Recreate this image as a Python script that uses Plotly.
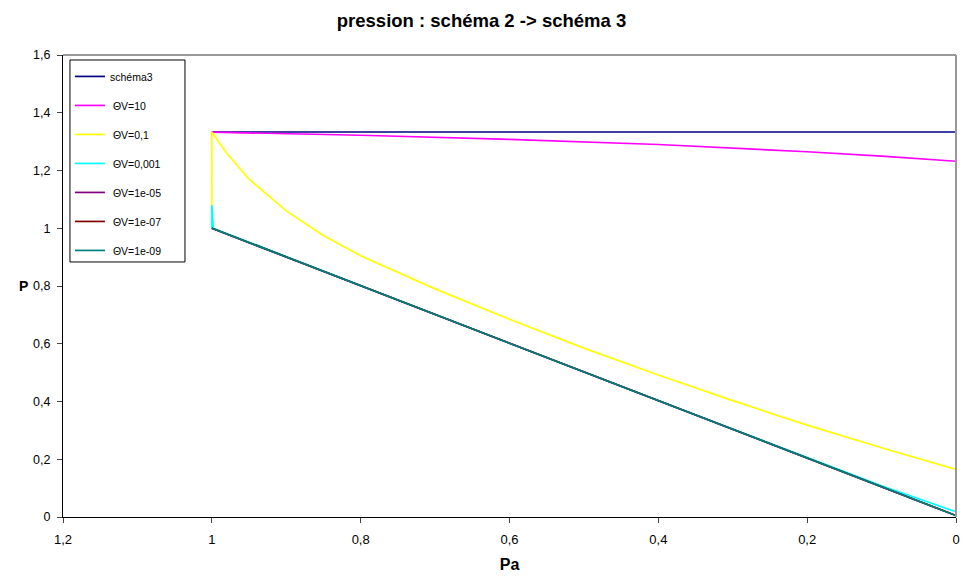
import plotly.graph_objects as go

# ---- data ----
names = ["schéma3", " ΘV=10", " ΘV=0,1", " ΘV=0,001", " ΘV=1e-05", " ΘV=1e-07", " ΘV=1e-09"]
colors = ["#000080", "#FF00FF", "#FFFF00", "#00FFFF", "#800080", "#800000", "#008080"]

pa_schema3 = [1.0, 0.0]
p_schema3 = [1.3333, 1.3333]

pa_tv10 = [1.0, 0.8, 0.6, 0.4, 0.2, 0.1, 0.0]
p_tv10 = [1.333, 1.322, 1.308, 1.290, 1.265, 1.250, 1.232]

pa_tv01 = [1.0, 1.0, 0.98, 0.95, 0.9, 0.85, 0.8, 0.7, 0.6, 0.5, 0.4, 0.3, 0.2, 0.1, 0.0]
p_tv01 = [1.0, 1.333, 1.26, 1.17, 1.06, 0.975, 0.905, 0.79, 0.685, 0.585, 0.492, 0.403, 0.318, 0.240, 0.165]

pa_tv1e3 = [1.0, 1.0, 0.998, 0.8, 0.6, 0.4, 0.2, 0.1, 0.0]
p_tv1e3 = [1.0, 1.08, 1.0, 0.801, 0.602, 0.403, 0.205, 0.108, 0.018]

pa_tv1e5 = [1.0, 0.0]
p_tv1e5 = [1.0, 0.005]
pa_tv1e7 = [1.0, 0.0]
p_tv1e7 = [1.0, 0.005]
pa_tv1e9 = [1.0, 0.0]
p_tv1e9 = [1.0, 0.005]

xs = [pa_schema3, pa_tv10, pa_tv01, pa_tv1e3, pa_tv1e5, pa_tv1e7, pa_tv1e9]
ys = [p_schema3, p_tv10, p_tv01, p_tv1e3, p_tv1e5, p_tv1e7, p_tv1e9]

x_ticks = [1.2, 1.0, 0.8, 0.6, 0.4, 0.2, 0.0]
y_ticks = [0, 0.2, 0.4, 0.6, 0.8, 1.0, 1.2, 1.4, 1.6]

fig = go.Figure()
for i, (n, c, x, y) in enumerate(zip(names, colors, xs, ys)):
    fig.add_trace(go.Scatter(x=x, y=y, mode="lines", name=n,
                             line=dict(color=c, width=1.7),
                             legendgroup=f"g{i}"))

font_family = "Liberation Sans, Arial, sans-serif"
fig.update_layout(
    width=963, height=579,
    margin=dict(l=63, r=7, t=55, b=62, autoexpand=False),
    paper_bgcolor="white", plot_bgcolor="white",
    separators=", ",
    font=dict(family=font_family, size=13, color="black"),
    title=dict(text="<b>pression : schéma 2 -> schéma 3</b>", x=0.5, xanchor="center",
               y=0.965, yanchor="middle", font=dict(size=18.5)),
    showlegend=True,
    legend=dict(x=0.0078, y=0.985, xanchor="left", yanchor="top",
                bgcolor="rgba(0,0,0,0)", borderwidth=0,
                font=dict(size=10.5), tracegroupgap=10, itemwidth=30),
    xaxis=dict(range=[1.2, 0], tickvals=x_ticks, ticks="outside", ticklen=5,
               showgrid=False, zeroline=False, showline=True, linecolor="black",
               linewidth=1, ticklabelstandoff=5, automargin=False,
               tickfont=dict(size=13),
               title=dict(text="<b>Pa</b>", font=dict(size=16), standoff=13)),
    yaxis=dict(range=[0, 1.6], tickvals=y_ticks, ticks="outside", ticklen=5,
               showgrid=False, zeroline=False, showline=True, linecolor="black",
               linewidth=1, ticklabelstandoff=4, automargin=False,
               tickfont=dict(size=12.5)),
)
# gray border on top and right of plot area
fig.add_shape(type="line", xref="paper", yref="paper", x0=0, x1=1, y0=1, y1=1,
              line=dict(color="#999999", width=2))
fig.add_shape(type="line", xref="paper", yref="paper", x0=1, x1=1, y0=0, y1=1,
              line=dict(color="#999999", width=2))
# legend frame
fig.add_shape(type="rect", xref="paper", yref="paper", x0=0.0078, x1=0.1366,
              y0=0.552, y1=0.9892, line=dict(color="black", width=1),
              fillcolor="white", layer="above")
# y axis title "P"
fig.add_annotation(text="<b>P</b>", xref="paper", yref="y", x=-0.0375, y=0.8,
                   xanchor="right", yanchor="middle", showarrow=False,
                   font=dict(size=14))

fig.write_html("out.html", config={"displayModeBar": False})
with open("out.html", "r", encoding="utf-8") as f:
    html = f.read()
html = html.replace("<body>", '<body style="margin:0;padding:0;overflow:hidden;">', 1)
with open("out.html", "w", encoding="utf-8") as f:
    f.write(html)
